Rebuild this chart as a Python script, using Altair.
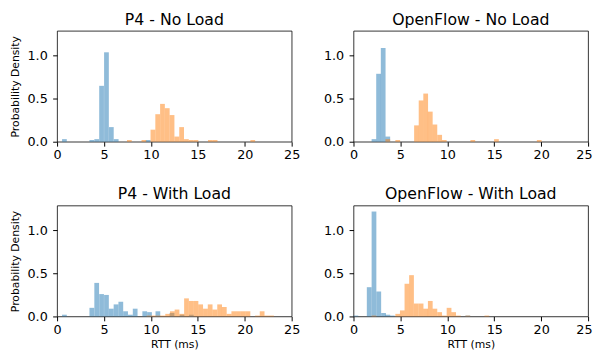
import altair as alt
import pandas as pd

# ---- data (bin left edges in ms, heights = density) ----
p4_nl_blue_left = [0.53, 3.45, 3.97, 4.49, 5.01, 5.53, 6.05, 9.45]
p4_nl_blue_h = [0.03, 0.02, 0.03, 0.65, 1.04, 0.17, 0.03, 0.02]
p4_nl_orange_left = [7.45, 9.0, 9.96, 10.47, 10.98, 11.49, 12.0, 12.51, 13.02, 13.53,
                     14.04, 14.55, 16.08, 16.59, 20.6]
p4_nl_orange_h = [0.02, 0.02, 0.14, 0.32, 0.44, 0.39, 0.31, 0.06, 0.17, 0.03,
                  0.02, 0.02, 0.02, 0.02, 0.02]

of_nl_blue_left = [1.93, 2.42, 2.91, 3.40]
of_nl_blue_h = [0.03, 0.79, 1.09, 0.06]
of_nl_orange_left = [3.40, 4.46, 6.46, 6.95, 7.44, 7.93, 8.42, 8.93, 9.42, 12.46, 14.98, 19.54]
of_nl_orange_h = [0.03, 0.02, 0.19, 0.48, 0.56, 0.35, 0.20, 0.08, 0.02, 0.02, 0.03, 0.02]

p4_wl_blue_left = [0.53, 3.45, 3.97, 4.49, 5.01, 5.52, 6.03, 6.54, 7.05, 7.56, 8.07,
                   9.09, 9.60, 10.49, 12.0, 13.06, 14.05]
p4_wl_blue_h = [0.02, 0.10, 0.39, 0.26, 0.25, 0.09, 0.14, 0.17, 0.06, 0.02, 0.09,
                0.06, 0.05, 0.06, 0.04, 0.02, 0.02]
p4_wl_orange_left = [9.54, 10.04, 10.53, 11.02, 11.53, 12.03, 12.53, 13.04, 13.54, 14.05,
                     14.55, 15.05, 15.56, 16.06, 16.56, 17.07, 17.57, 18.08, 18.58, 19.08,
                     19.59, 20.09, 21.10, 21.60, 22.10, 22.60]
p4_wl_orange_h = [0.01, 0.01, 0.01, 0.01, 0.03, 0.06, 0.08, 0.03, 0.21, 0.18,
                  0.18, 0.14, 0.09, 0.14, 0.08, 0.14, 0.11, 0.03, 0.06, 0.06,
                  0.06, 0.06, 0.01, 0.06, 0.01, 0.01]

of_wl_blue_left = [0.0, 1.42, 1.93, 2.44, 2.95, 3.40, 3.89, 11.93]
of_wl_blue_h = [0.01, 0.34, 1.22, 0.29, 0.04, 0.02, 0.01, 0.01]
of_wl_orange_left = [1.93, 4.46, 4.95, 5.44, 5.93, 6.44, 6.95, 7.44, 7.93, 8.42, 8.93,
                     9.42, 9.93, 10.42, 10.93, 11.93, 13.96]
of_wl_orange_h = [0.01, 0.03, 0.07, 0.38, 0.48, 0.15, 0.15, 0.09, 0.18, 0.09, 0.05,
                  0.01, 0.10, 0.05, 0.01, 0.01, 0.01]

BIN_W = 0.505
FONT = "DejaVu Sans"


def make_df(bl, bh, ol, oh):
    rows = []
    for l, h in zip(bl, bh):
        rows.append({"series": "a", "left": l, "right": l + BIN_W, "h": h, "base": 0.0})
    for l, h in zip(ol, oh):
        rows.append({"series": "b", "left": l, "right": l + BIN_W, "h": h, "base": 0.0})
    return pd.DataFrame(rows)


def panel(title, df, x_title, y_title, right_col):
    x_axis = dict(values=[0, 5, 10, 15, 20, 25],
                  labelFontSize=13, labelFont=FONT, labelColor="black",
                  tickColor="black", tickSize=4.5, labelPadding=3,
                  domain=False, grid=False, titleFontSize=11, titleFont=FONT,
                  titleFontWeight="normal", titleColor="black", titlePadding=2,
                  title=x_title if x_title else "")
    if right_col:
        x_axis["labelFlush"] = True
        x_axis["labelFlushOffset"] = 4
    else:
        x_axis["labelFlush"] = False
    y_axis = dict(values=[0, 0.5, 1.0], format=".1f",
                  labelFontSize=13, labelFont=FONT, labelColor="black",
                  tickColor="black", tickSize=4.5, labelPadding=5.5,
                  domain=False, grid=False, titleFontSize=11, titleFont=FONT,
                  titleFontWeight="normal", titleColor="black", titlePadding=7,
                  title=y_title if y_title else "")
    return alt.Chart(df, title=alt.Title(title, fontSize=16, fontWeight="normal",
                                         font=FONT, color="black", offset=3.3)).mark_rect(
        opacity=0.5
    ).encode(
        x=alt.X("left:Q", scale=alt.Scale(domain=[0, 25], nice=False, zero=False),
                axis=alt.Axis(**x_axis)),
        x2="right:Q",
        y=alt.Y("h:Q", scale=alt.Scale(domain=[0, 1.29], nice=False),
                axis=alt.Axis(**y_axis)),
        y2="base:Q",
        color=alt.Color("series:N",
                        scale=alt.Scale(domain=["a", "b"], range=["#1f77b4", "#ff7f0e"]),
                        legend=None),
    ).properties(width=239, height=113)


c1 = panel("P4 - No Load", make_df(p4_nl_blue_left, p4_nl_blue_h, p4_nl_orange_left, p4_nl_orange_h),
           None, "Probability Density", False)
c2 = panel("OpenFlow - No Load", make_df(of_nl_blue_left, of_nl_blue_h, of_nl_orange_left, of_nl_orange_h),
           None, None, True)
c3 = panel("P4 - With Load", make_df(p4_wl_blue_left, p4_wl_blue_h, p4_wl_orange_left, p4_wl_orange_h),
           "RTT (ms)", "Probability Density", False)
c4 = panel("OpenFlow - With Load", make_df(of_wl_blue_left, of_wl_blue_h, of_wl_orange_left, of_wl_orange_h),
           "RTT (ms)", None, True)

chart = alt.concat(c1, c2, c3, c4, columns=2, spacing={"row": 65, "column": 63},
                   bounds="flush").properties(
    padding={"top": 0, "left": 0, "right": 0, "bottom": -1}, background="white"
).configure_view(stroke="black", strokeWidth=0.8)

chart.save("out.html", embed_options={"renderer": "svg", "actions": False})
